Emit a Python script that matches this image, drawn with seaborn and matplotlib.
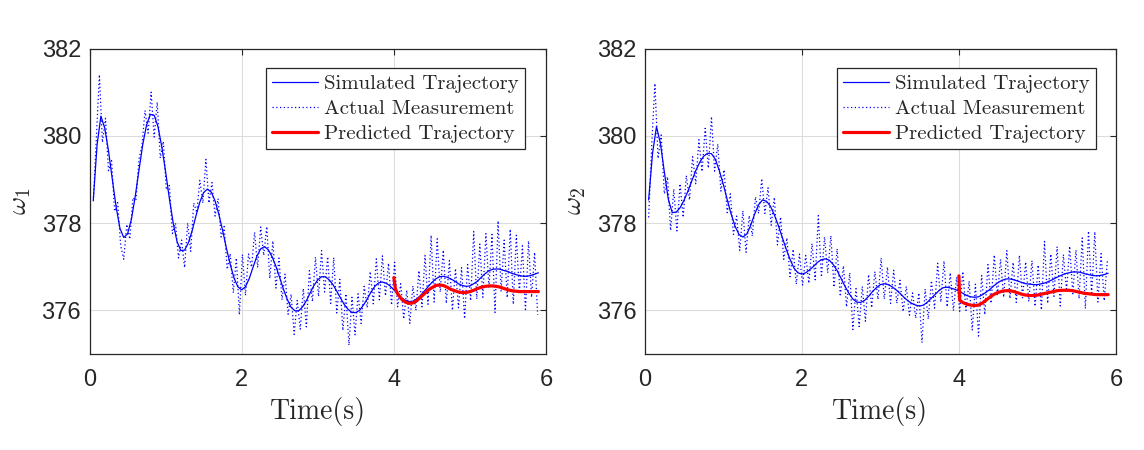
import numpy as np
import pandas as pd
import matplotlib
matplotlib.use("Agg")
import matplotlib.pyplot as plt
import seaborn as sns

# ---------------- data ----------------
t_sim = np.round(np.arange(118) * 0.05 + 0.05, 2)          # 0.05 ... 5.90
t_meas = np.round(np.arange(147) * 0.04 + 0.05, 2)         # 0.05 ... 5.89

sim1 = [378.53, 379.80, 380.45, 380.18, 379.65, 379.00, 378.37, 377.88, 377.67, 377.75,
        378.08, 378.60, 379.21, 379.80, 380.25, 380.49, 380.47, 380.21, 379.75, 379.18,
        378.56, 378.00, 377.58, 377.37, 377.38, 377.55, 377.83, 378.17, 378.48, 378.70,
        378.78, 378.71, 378.51, 378.20, 377.83, 377.42, 377.05, 376.74, 376.54, 376.47,
        376.54, 376.73, 376.99, 377.24, 377.41, 377.46, 377.39, 377.23, 377.01, 376.75,
        376.48, 376.25, 376.07, 375.99, 375.99, 376.08, 376.22, 376.40, 376.57, 376.70,
        376.77, 376.77, 376.70, 376.59, 376.44, 376.28, 376.13, 376.02, 375.95, 375.95,
        376.00, 376.12, 376.26, 376.42, 376.55, 376.63, 376.65, 376.62, 376.56, 376.47,
        376.38, 376.29, 376.23, 376.20, 376.21, 376.26, 376.34, 376.44, 376.54, 376.64,
        376.72, 376.77, 376.78, 376.76, 376.72, 376.67, 376.61, 376.57, 376.55, 376.56,
        376.61, 376.67, 376.76, 376.84, 376.91, 376.94, 376.95, 376.94, 376.91, 376.89,
        376.85, 376.82, 376.80, 376.78, 376.78, 376.80, 376.83, 376.86]

sim2 = [378.53, 379.60, 380.21, 379.83, 379.17, 378.55, 378.24, 378.25, 378.35, 378.52,
        378.73, 378.97, 379.20, 379.39, 379.53, 379.60, 379.59, 379.46, 379.20, 378.89,
        378.54, 378.21, 377.93, 377.74, 377.68, 377.75, 377.95, 378.21, 378.42, 378.53,
        378.50, 378.39, 378.19, 377.95, 377.68, 377.41, 377.17, 376.97, 376.86, 376.83,
        376.86, 376.93, 377.01, 377.10, 377.16, 377.18, 377.15, 377.05, 376.91, 376.73,
        376.55, 376.39, 376.26, 376.19, 376.18, 376.23, 376.32, 376.43, 376.52, 376.59,
        376.61, 376.59, 376.54, 376.47, 376.39, 376.30, 376.22, 376.16, 376.12, 376.10,
        376.12, 376.19, 376.28, 376.37, 376.46, 376.52, 376.53, 376.51, 376.48, 376.44,
        376.39, 376.34, 376.31, 376.30, 376.31, 376.36, 376.42, 376.49, 376.57, 376.64,
        376.69, 376.72, 376.72, 376.70, 376.67, 376.64, 376.61, 376.60, 376.59, 376.59,
        376.61, 376.63, 376.67, 376.71, 376.76, 376.80, 376.84, 376.86, 376.88, 376.88,
        376.87, 376.84, 376.82, 376.80, 376.79, 376.80, 376.82, 376.85]

meas1 = [378.50, 379.95, 381.40, 379.85, 380.40, 379.20, 379.43, 378.27, 378.47, 377.48,
         377.17, 377.97, 377.63, 378.58, 378.52, 379.46, 379.78, 380.58, 380.06, 381.00,
         379.97, 380.77, 379.49, 379.87, 378.76, 378.86, 377.76, 378.00, 377.20, 377.61,
         376.98, 378.00, 377.35, 378.46, 378.24, 378.98, 378.46, 379.46, 378.46, 378.93,
         378.16, 378.56, 377.68, 377.92, 376.94, 377.30, 376.40, 377.20, 375.90, 377.28,
         376.34, 377.29, 376.99, 377.79, 376.98, 377.91, 377.26, 377.92, 376.73, 377.59,
         376.51, 377.20, 376.24, 376.83, 375.91, 376.37, 375.45, 376.23, 375.57, 376.50,
         375.62, 376.91, 376.20, 377.22, 376.32, 377.37, 376.42, 377.23, 376.16, 377.21,
         375.94, 376.71, 375.54, 376.38, 375.20, 376.30, 375.44, 376.38, 375.70, 376.55,
         376.06, 376.89, 376.15, 377.18, 376.24, 377.25, 376.33, 377.08, 376.12, 377.10,
         376.08, 376.61, 375.80, 376.46, 375.70, 376.56, 376.00, 376.91, 376.08, 377.26,
         376.14, 377.72, 376.19, 377.64, 376.42, 377.38, 376.16, 377.14, 376.00, 376.96,
         376.06, 376.98, 375.81, 377.05, 376.22, 377.81, 376.26, 377.52, 376.30, 377.76,
         376.51, 377.74, 375.95, 378.05, 376.43, 377.61, 376.29, 377.86, 376.14, 377.72,
         376.40, 377.48, 375.98, 377.59, 376.30, 377.33, 375.90]

meas2 = [378.13, 379.80, 381.20, 379.48, 380.02, 378.67, 379.06, 377.83, 378.78, 377.82,
         378.90, 378.13, 379.09, 378.53, 379.52, 378.90, 379.91, 379.18, 380.17, 379.26,
         380.44, 379.19, 379.81, 378.73, 379.22, 378.24, 378.67, 377.74, 378.16, 377.37,
         378.28, 377.33, 378.17, 377.70, 378.60, 378.22, 379.02, 378.22, 378.81, 377.95,
         378.59, 377.50, 378.14, 377.17, 377.66, 376.77, 377.40, 376.60, 377.29, 376.58,
         377.26, 376.62, 377.53, 376.70, 378.17, 376.76, 377.68, 376.86, 377.71, 376.53,
         377.41, 376.32, 377.02, 376.08, 376.86, 375.56, 376.50, 375.63, 376.55, 375.75,
         376.82, 376.06, 376.89, 376.25, 377.20, 376.26, 376.99, 376.16, 376.92, 376.16,
         376.69, 375.97, 376.55, 375.89, 376.40, 375.82, 376.40, 375.26, 376.49, 375.80,
         376.68, 376.05, 377.08, 376.19, 377.13, 376.08, 376.86, 375.99, 376.76, 375.98,
         376.89, 376.00, 376.67, 375.55, 376.60, 375.41, 376.80, 375.90, 377.05, 376.16,
         377.27, 376.33, 377.17, 376.30, 377.37, 376.27, 377.10, 376.18, 377.26, 376.29,
         377.11, 376.20, 377.14, 376.09, 377.04, 376.01, 377.58, 376.16, 377.29, 376.32,
         377.46, 376.10, 377.28, 376.45, 377.47, 376.38, 377.38, 376.27, 377.66, 376.04,
         377.82, 376.36, 377.80, 376.19, 377.30, 376.22, 377.14]

t_pred1 = [4.00, 4.02, 4.05, 4.10, 4.15, 4.20, 4.25, 4.30, 4.35, 4.40, 4.45, 4.50, 4.55,
           4.60, 4.65, 4.70, 4.75, 4.80, 4.85, 4.90, 4.95, 5.00, 5.05, 5.10, 5.15, 5.20,
           5.25, 5.30, 5.35, 5.40, 5.45, 5.50, 5.55, 5.60, 5.65, 5.70, 5.75, 5.80, 5.85, 5.90]
pred1 = [376.75, 376.50, 376.38, 376.26, 376.19, 376.16, 376.17, 376.22, 376.30, 376.38,
         376.46, 376.52, 376.57, 376.58, 376.57, 376.53, 376.48, 376.45, 376.42, 376.41,
         376.41, 376.43, 376.46, 376.50, 376.53, 376.55, 376.56, 376.56, 376.55, 376.53,
         376.50, 376.47, 376.45, 376.44, 376.43, 376.43, 376.43, 376.43, 376.43, 376.43]

t_pred2 = [4.00, 4.01, 4.05, 4.10, 4.15, 4.20, 4.25, 4.30, 4.35, 4.40, 4.45, 4.50, 4.55,
           4.60, 4.65, 4.70, 4.75, 4.80, 4.85, 4.90, 4.95, 5.00, 5.05, 5.10, 5.15, 5.20,
           5.25, 5.30, 5.35, 5.40, 5.45, 5.50, 5.55, 5.60, 5.65, 5.70, 5.75, 5.80, 5.85, 5.90]
pred2 = [376.79, 376.23, 376.18, 376.14, 376.12, 376.11, 376.12, 376.17, 376.24, 376.31,
         376.37, 376.41, 376.44, 376.45, 376.45, 376.43, 376.40, 376.37, 376.35, 376.34,
         376.34, 376.35, 376.37, 376.39, 376.41, 376.43, 376.45, 376.46, 376.46, 376.46,
         376.45, 376.43, 376.41, 376.39, 376.38, 376.37, 376.36, 376.36, 376.36, 376.36]

ylabels = [r"$\omega_1$", r"$\omega_2$"]
x_ticks = [0, 2, 4, 6]
y_ticks = [376, 378, 380, 382]
legend_labels = ["Simulated Trajectory", "Actual Measurement", "Predicted Trajectory"]

# ---------------- style ----------------
sns.set_style("white")
plt.rcParams["font.family"] = ["Liberation Sans", "DejaVu Sans"]
plt.rcParams["mathtext.fontset"] = "cm"
plt.rcParams["axes.unicode_minus"] = False

fig = plt.figure(figsize=(11.44, 4.5), dpi=100)
W, H = 1144, 450
boxes = [(89.5, 546, 48.5, 354), (644.7, 1116, 48.5, 354)]
legend_anchor = [(0.954, 0.935), (0.9576, 0.935)]

panels = [(sim1, meas1, t_pred1, pred1), (sim2, meas2, t_pred2, pred2)]

for i, ((x0, x1, y0, y1), (sim, meas, tp, pr)) in enumerate(zip(boxes, panels)):
    ax = fig.add_axes([x0 / W, 1 - y1 / H, (x1 - x0) / W, (y1 - y0) / H])
    sns.lineplot(x=t_sim, y=sim, ax=ax, color="#0000ff", linewidth=0.9,
                 label=legend_labels[0], estimator=None, sort=False)
    sns.lineplot(x=t_meas, y=meas, ax=ax, color="#0000ff", linewidth=0.9,
                 dashes=False, label=legend_labels[1], estimator=None, sort=False)
    ax.lines[-1].set_dashes((1, 2))
    sns.lineplot(x=tp, y=pr, ax=ax, color="#ff0000", linewidth=2.3,
                 label=legend_labels[2], estimator=None, sort=False)

    ax.set_xlim(0, 6)
    ax.set_ylim(375, 382)
    ax.set_xticks(x_ticks)
    ax.set_yticks(y_ticks)
    ax.grid(True, color="#dcdcdc", linewidth=0.8)
    ax.set_axisbelow(True)
    ax.tick_params(direction="in", length=4, width=0.8, top=True, right=True,
                   labelsize=17, colors="#262626")
    ax.tick_params(axis="x", pad=11)
    ax.tick_params(axis="y", pad=6)
    for s in ax.spines.values():
        s.set_visible(True)
        s.set_color("#262626")
        s.set_linewidth(0.9)

    ax.set_xlabel("Time(s)", fontfamily="cmr10", fontsize=20, labelpad=4, color="#262626")
    ax.set_ylabel(ylabels[i], fontsize=20, labelpad=6, color="#262626")

    leg = ax.legend(loc="upper right", bbox_to_anchor=legend_anchor[i],
                    borderaxespad=0.0,
                    prop={"family": "cmr10", "size": 15},
                    frameon=True, fancybox=False, edgecolor="#262626",
                    framealpha=1, handlelength=2.2, handletextpad=0.3,
                    labelspacing=0.3, borderpad=0.3)
    leg.get_frame().set_linewidth(0.9)
    leg.get_lines()[1].set_dashes((1, 2))

fig.savefig("out.png", dpi=100)
